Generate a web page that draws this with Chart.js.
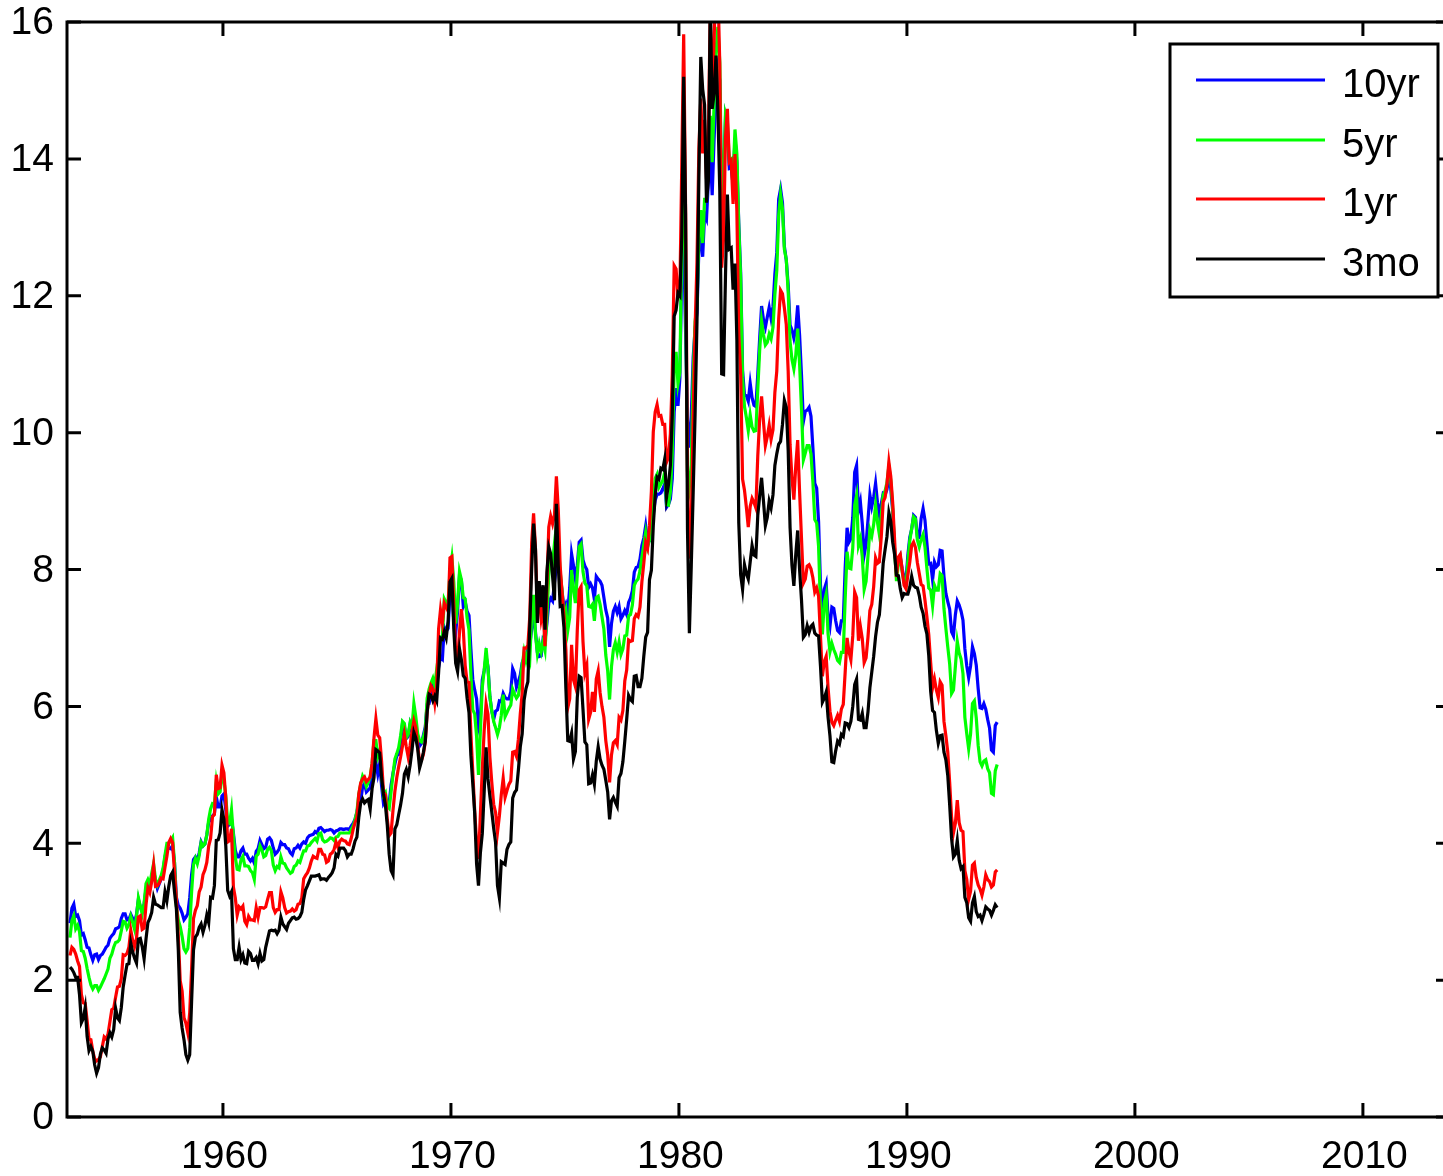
<!DOCTYPE html>
<html>
<head>
<meta charset="utf-8">
<script src="https://cdn.jsdelivr.net/npm/chart.js@4/dist/chart.umd.min.js"></script>
<style>
  html, body { margin: 0; padding: 0; background: #fff; overflow: hidden; }
  #wrap { width: 1443px; height: 1176px; overflow: hidden; }
</style>
</head>
<body>
<div id="wrap"><canvas id="rates" width="1460" height="1176"></canvas></div>
<script>
// monthly yields in percent, first month is April 1953, last December 1993
var startYear = 1953;
var startMonth = 4;

var seriesLabels = ['10yr', '5yr', '1yr', '3mo'];
var seriesColors = ['#0000ff', '#00ff00', '#ff0000', '#000000'];

var xTicks = [1960, 1970, 1980, 1990, 2000, 2010];
var yTicks = [0, 2, 4, 6, 8, 10, 12, 14, 16];

var tenYear = [
    2.83, 3.05, 3.11, 2.93, 2.95, 2.87, 2.66, 2.68, 2.59,
    2.48, 2.47, 2.37, 2.29, 2.37, 2.38, 2.30, 2.36, 2.38, 2.43, 2.48, 2.51,
    2.61, 2.65, 2.68, 2.75, 2.76, 2.78, 2.90, 2.97, 2.97, 2.88, 2.89, 2.96,
    2.90, 2.84, 2.96, 3.18, 3.07, 3.00, 3.11, 3.33, 3.38, 3.34, 3.49, 3.59,
    3.46, 3.34, 3.41, 3.48, 3.60, 3.80, 3.93, 3.93, 3.92, 3.97, 3.72, 3.21,
    3.09, 3.05, 2.98, 2.88, 2.92, 2.97, 3.20, 3.54, 3.76, 3.80, 3.74, 3.86,
    4.02, 3.96, 3.99, 4.12, 4.31, 4.34, 4.40, 4.43, 4.68, 4.53, 4.53, 4.69,
    4.72, 4.49, 4.25, 4.28, 4.35, 4.15, 3.90, 3.80, 3.80, 3.89, 3.93, 3.84,
    3.84, 3.78, 3.74, 3.78, 3.71, 3.88, 3.92, 4.04, 3.98, 3.92, 3.94, 4.06,
    4.08, 4.04, 3.93, 3.84, 3.87, 3.91, 4.01, 3.98, 3.98, 3.93, 3.92, 3.86,
    3.83, 3.92, 3.93, 3.97, 3.93, 3.99, 4.02, 4.00, 4.08, 4.11, 4.12, 4.13,
    4.17, 4.15, 4.22, 4.23, 4.20, 4.17, 4.19, 4.19, 4.20, 4.19, 4.15, 4.18,
    4.19, 4.21, 4.21, 4.20, 4.21, 4.21, 4.20, 4.25, 4.29, 4.35, 4.45, 4.62,
    4.61, 4.83, 4.87, 4.75, 4.78, 4.81, 5.02, 5.22, 5.18, 5.01, 5.16, 4.84,
    4.58, 4.63, 4.54, 4.59, 4.85, 5.02, 5.16, 5.28, 5.30, 5.48, 5.75, 5.70,
    5.53, 5.56, 5.74, 5.64, 5.87, 5.72, 5.50, 5.42, 5.46, 5.58, 5.70, 6.03,
    6.04, 6.19, 6.30, 6.17, 6.32, 6.57, 6.72, 6.69, 7.16, 7.10, 7.14, 7.65,
    7.79, 7.24, 7.07, 7.39, 7.91, 7.84, 7.46, 7.53, 7.39, 7.33, 6.84, 6.39,
    6.24, 6.11, 5.70, 5.83, 6.39, 6.52, 6.73, 6.58, 6.14, 5.93, 5.81, 5.93,
    5.95, 6.08, 6.07, 6.19, 6.13, 6.11, 6.11, 6.21, 6.55, 6.48, 6.28, 6.36,
    6.46, 6.64, 6.71, 6.67, 6.85, 6.90, 7.13, 7.40, 7.09, 6.79, 6.73, 6.74,
    6.99, 6.96, 7.21, 7.51, 7.58, 7.54, 7.81, 8.04, 8.04, 7.90, 7.68, 7.43,
    7.50, 7.39, 7.73, 8.23, 8.06, 7.86, 8.06, 8.40, 8.43, 8.14, 8.05, 8.00,
    7.74, 7.79, 7.73, 7.56, 7.90, 7.86, 7.83, 7.77, 7.59, 7.41, 7.29, 6.87,
    7.21, 7.39, 7.46, 7.37, 7.46, 7.28, 7.33, 7.40, 7.34, 7.52, 7.58, 7.69,
    7.96, 8.03, 8.04, 8.15, 8.35, 8.46, 8.64, 8.41, 8.42, 8.64, 8.81, 9.01,
    9.10, 9.10, 9.12, 9.18, 9.25, 8.91, 8.95, 9.03, 9.33, 10.30, 10.65, 10.39,
    10.80, 12.41, 12.75, 11.47, 10.18, 9.78, 10.25, 11.10, 11.51, 11.75, 12.68, 12.84,
    12.57, 13.19, 13.12, 13.68, 14.10, 13.47, 14.28, 14.94, 15.32, 15.15, 13.39, 13.72,
    14.59, 14.43, 13.86, 13.87, 13.62, 14.30, 13.95, 13.06, 12.34, 10.91, 10.55, 10.54,
    10.46, 10.72, 10.51, 10.40, 10.38, 10.85, 11.38, 11.85, 11.65, 11.54, 11.69, 11.83,
    11.67, 11.84, 12.32, 12.63, 13.41, 13.56, 13.36, 12.72, 12.52, 12.16, 11.57, 11.50,
    11.38, 11.51, 11.86, 11.43, 10.85, 10.16, 10.31, 10.33, 10.37, 10.24, 9.78, 9.26,
    9.19, 8.70, 7.78, 7.30, 7.71, 7.80, 7.30, 7.17, 7.45, 7.43, 7.25, 7.11,
    7.08, 7.25, 7.25, 8.02, 8.61, 8.40, 8.45, 8.76, 9.42, 9.52, 8.86, 8.99,
    8.67, 8.21, 8.37, 8.72, 9.09, 8.92, 9.06, 9.26, 8.98, 8.80, 8.96, 9.11,
    9.09, 9.17, 9.36, 9.18, 8.86, 8.28, 8.02, 8.11, 8.19, 8.01, 7.87, 7.84,
    8.21, 8.47, 8.59, 8.79, 8.76, 8.48, 8.47, 8.75, 8.89, 8.72, 8.39, 8.08,
    8.09, 7.85, 8.11, 8.04, 8.07, 8.28, 8.27, 7.90, 7.65, 7.53, 7.42, 7.09,
    7.03, 7.34, 7.54, 7.48, 7.39, 7.26, 6.84, 6.59, 6.42, 6.59, 6.87, 6.77,
    6.60, 6.26, 5.98, 5.97, 6.04, 5.96, 5.81, 5.68, 5.36, 5.33, 5.72, 5.77
];

var fiveYear = [
    2.62, 2.87, 2.94, 2.75, 2.80, 2.71, 2.43, 2.42, 2.32,
    2.17, 2.04, 1.93, 1.87, 1.92, 1.92, 1.85, 1.90, 1.96, 2.02, 2.09, 2.16,
    2.32, 2.38, 2.48, 2.55, 2.56, 2.59, 2.72, 2.86, 2.85, 2.76, 2.81, 2.93,
    2.84, 2.74, 2.93, 3.20, 3.08, 2.97, 3.12, 3.41, 3.47, 3.40, 3.56, 3.70,
    3.47, 3.39, 3.46, 3.53, 3.64, 3.83, 4.00, 4.00, 4.03, 4.08, 3.72, 3.08,
    2.88, 2.78, 2.64, 2.46, 2.41, 2.46, 2.77, 3.29, 3.69, 3.78, 3.70, 3.82,
    4.01, 3.96, 3.99, 4.12, 4.35, 4.50, 4.58, 4.57, 4.90, 4.72, 4.75, 5.01,
    4.92, 4.69, 4.31, 4.29, 4.49, 4.12, 3.79, 3.62, 3.61, 3.76, 3.81, 3.67,
    3.67, 3.66, 3.60, 3.57, 3.47, 3.81, 3.84, 3.96, 3.90, 3.80, 3.82, 3.91,
    3.94, 3.89, 3.68, 3.60, 3.66, 3.64, 3.80, 3.71, 3.70, 3.64, 3.60, 3.56,
    3.58, 3.66, 3.68, 3.74, 3.72, 3.81, 3.89, 3.89, 3.96, 3.97, 4.01, 4.04,
    4.07, 4.03, 4.14, 4.15, 4.05, 4.02, 4.03, 4.05, 4.08, 4.07, 4.04, 4.09,
    4.10, 4.15, 4.15, 4.15, 4.15, 4.15, 4.15, 4.20, 4.25, 4.34, 4.46, 4.72,
    4.86, 4.98, 4.92, 4.83, 4.89, 4.97, 5.17, 5.50, 5.50, 5.27, 5.36, 5.00,
    4.70, 4.74, 4.54, 4.51, 4.75, 5.01, 5.23, 5.31, 5.40, 5.57, 5.78, 5.75,
    5.54, 5.59, 5.76, 5.69, 6.04, 5.85, 5.60, 5.50, 5.48, 5.55, 5.66, 6.12,
    6.25, 6.34, 6.41, 6.30, 6.54, 6.75, 7.01, 7.03, 7.57, 7.51, 7.53, 7.96,
    8.17, 7.82, 7.21, 7.50, 7.97, 7.85, 7.59, 7.57, 7.29, 7.12, 6.47, 5.95,
    5.89, 5.56, 5.00, 5.65, 6.28, 6.53, 6.85, 6.55, 6.14, 5.93, 5.78, 5.69,
    5.59, 5.69, 5.87, 6.17, 5.85, 5.91, 5.97, 6.02, 6.25, 6.18, 6.12, 6.16,
    6.34, 6.60, 6.80, 6.67, 6.80, 6.69, 7.33, 7.63, 7.05, 6.77, 6.92, 6.80,
    6.95, 6.82, 7.31, 7.92, 8.18, 8.10, 8.38, 8.63, 8.37, 7.97, 7.68, 7.31,
    7.41, 7.11, 7.30, 7.99, 7.72, 7.51, 7.92, 8.33, 8.37, 7.97, 7.80, 7.76,
    7.46, 7.45, 7.49, 7.25, 7.59, 7.61, 7.49, 7.31, 7.13, 6.75, 6.52, 6.10,
    6.58, 6.83, 6.93, 6.79, 6.94, 6.76, 6.84, 7.03, 7.04, 7.32, 7.34, 7.48,
    7.77, 7.83, 7.86, 7.98, 8.18, 8.36, 8.54, 8.33, 8.43, 8.61, 9.04, 9.33,
    9.39, 9.20, 9.25, 9.30, 9.42, 8.95, 8.94, 9.14, 9.69, 10.95, 11.18, 10.71,
    10.88, 12.84, 14.05, 12.02, 9.44, 9.21, 9.53, 10.84, 11.62, 11.86, 12.83, 13.25,
    12.77, 13.41, 13.41, 13.99, 14.63, 13.95, 14.79, 15.56, 15.93, 15.41, 13.38, 13.60,
    14.65, 14.54, 13.98, 14.00, 13.75, 14.43, 14.07, 13.00, 12.25, 10.80, 10.38, 10.22,
    10.03, 10.26, 10.08, 10.02, 10.03, 10.63, 11.21, 11.63, 11.43, 11.28, 11.32, 11.44,
    11.37, 11.54, 12.02, 12.37, 13.17, 13.48, 13.27, 12.68, 12.53, 12.06, 11.33, 11.07,
    10.93, 11.13, 11.52, 11.01, 10.34, 9.60, 9.70, 9.81, 9.81, 9.69, 9.28, 8.73,
    8.68, 8.34, 7.46, 7.05, 7.52, 7.64, 7.06, 6.80, 6.92, 6.83, 6.76, 6.67,
    6.64, 6.79, 6.79, 7.57, 8.26, 8.02, 8.01, 8.32, 8.94, 9.08, 8.35, 8.45,
    8.18, 7.71, 7.83, 8.19, 8.58, 8.49, 8.66, 8.94, 8.69, 8.51, 8.79, 9.09,
    9.15, 9.27, 9.51, 9.30, 8.91, 8.29, 7.83, 8.09, 8.17, 7.97, 7.81, 7.75,
    8.12, 8.42, 8.60, 8.77, 8.74, 8.43, 8.33, 8.44, 8.51, 8.33, 8.02, 7.73,
    7.70, 7.47, 7.77, 7.70, 7.70, 7.94, 7.91, 7.43, 7.14, 6.87, 6.62, 6.19,
    6.24, 6.58, 6.95, 6.78, 6.69, 6.48, 5.84, 5.60, 5.38, 5.60, 6.04, 6.08,
    5.83, 5.43, 5.19, 5.13, 5.20, 5.22, 5.09, 5.03, 4.73, 4.71, 5.06, 5.15
];

var oneYear = [
    2.36, 2.48, 2.45, 2.38, 2.28, 2.20, 1.79, 1.67, 1.66,
    1.41, 1.14, 1.13, 0.96, 0.85, 0.82, 0.84, 0.88, 1.03, 1.17, 1.14, 1.21,
    1.39, 1.57, 1.59, 1.75, 1.90, 1.91, 2.02, 2.37, 2.36, 2.39, 2.48, 2.73,
    2.58, 2.49, 2.61, 2.92, 2.94, 2.74, 2.76, 3.10, 3.35, 3.28, 3.44, 3.68,
    3.37, 3.38, 3.42, 3.49, 3.48, 3.65, 3.81, 4.01, 4.07, 4.01, 3.57, 3.18,
    2.65, 1.99, 1.84, 1.45, 1.37, 1.23, 1.52, 2.16, 2.90, 3.02, 3.09, 3.29,
    3.36, 3.54, 3.61, 3.72, 3.96, 4.07, 4.39, 4.42, 5.00, 4.80, 4.81, 5.14,
    5.03, 4.66, 4.02, 4.04, 4.21, 3.36, 3.20, 2.95, 3.07, 3.04, 3.08, 2.86,
    2.81, 2.93, 2.88, 2.88, 2.87, 3.06, 2.92, 3.06, 3.06, 3.05, 3.07, 3.18,
    3.28, 3.28, 3.06, 2.99, 3.03, 3.03, 3.29, 3.20, 3.06, 2.98, 3.00, 3.01,
    3.04, 3.01, 3.03, 3.11, 3.12, 3.20, 3.48, 3.53, 3.57, 3.64, 3.74, 3.81,
    3.79, 3.78, 3.91, 3.91, 3.84, 3.83, 3.72, 3.74, 3.84, 3.86, 3.91, 4.02,
    3.94, 4.03, 4.06, 4.04, 4.03, 3.99, 3.98, 4.07, 4.20, 4.30, 4.37, 4.72,
    4.88, 4.94, 4.97, 4.90, 4.93, 4.97, 5.17, 5.54, 5.82, 5.58, 5.54, 5.20,
    4.75, 4.71, 4.35, 4.11, 4.15, 4.48, 4.76, 4.96, 5.12, 5.26, 5.42, 5.59,
    5.41, 5.26, 5.43, 5.63, 5.79, 5.69, 5.42, 5.21, 5.21, 5.30, 5.48, 5.92,
    6.17, 6.30, 6.25, 6.05, 6.29, 7.13, 7.41, 7.22, 7.51, 7.45, 7.39, 8.17,
    8.19, 7.48, 6.76, 6.64, 7.08, 7.42, 7.13, 6.60, 6.36, 6.35, 5.60, 5.04,
    4.48, 4.01, 3.77, 4.42, 5.08, 5.65, 6.04, 5.88, 5.26, 4.89, 4.57, 4.45,
    4.16, 4.40, 4.71, 4.95, 4.67, 4.77, 4.86, 4.91, 5.33, 5.34, 5.27, 5.52,
    5.89, 6.19, 6.85, 6.85, 6.89, 7.31, 8.39, 8.82, 8.31, 7.40, 7.57, 7.27,
    7.42, 6.88, 7.76, 8.62, 8.78, 8.67, 8.80, 9.36, 8.87, 8.05, 7.66, 7.31,
    6.83, 5.98, 6.11, 6.90, 6.39, 6.29, 7.11, 7.70, 7.75, 6.95, 6.49, 6.60,
    5.81, 5.91, 6.21, 5.92, 6.40, 6.52, 6.20, 6.00, 5.84, 5.50, 5.29, 4.89,
    5.29, 5.47, 5.50, 5.44, 5.84, 5.80, 5.94, 6.37, 6.53, 6.97, 6.95, 6.96,
    7.28, 7.34, 7.31, 7.45, 7.82, 8.09, 8.39, 8.31, 8.64, 9.14, 10.01, 10.30,
    10.41, 10.24, 10.25, 10.12, 10.12, 9.57, 9.64, 9.98, 10.84, 12.44, 12.39, 11.98,
    12.06, 13.92, 15.82, 13.30, 9.39, 8.16, 8.65, 10.24, 11.52, 12.49, 14.15, 14.88,
    14.08, 14.57, 13.71, 14.32, 16.20, 14.86, 15.72, 16.72, 16.52, 15.38, 12.41, 12.85,
    14.32, 14.73, 13.95, 13.98, 13.34, 14.07, 13.24, 11.43, 10.85, 9.32, 9.16, 8.91,
    8.62, 8.92, 9.04, 8.98, 8.90, 9.66, 10.20, 10.53, 10.16, 9.81, 9.94, 10.11,
    9.90, 10.04, 10.59, 10.90, 11.66, 12.08, 12.03, 11.82, 11.58, 10.90, 9.82, 9.33,
    9.02, 9.52, 9.89, 9.14, 8.46, 7.80, 7.86, 8.05, 8.07, 8.01, 7.88, 7.67,
    7.73, 7.61, 7.03, 6.44, 6.65, 6.73, 6.27, 5.93, 5.77, 5.72, 5.80, 5.87,
    5.78, 5.96, 6.03, 6.50, 7.00, 6.80, 6.68, 7.03, 7.67, 7.59, 6.96, 7.17,
    6.99, 6.64, 6.71, 7.01, 7.40, 7.49, 7.75, 8.17, 8.09, 8.11, 8.48, 8.99,
    9.05, 9.25, 9.57, 9.36, 8.98, 8.44, 7.89, 8.18, 8.22, 7.99, 7.77, 7.72,
    7.92, 8.11, 8.35, 8.40, 8.32, 8.10, 7.94, 7.78, 7.76, 7.55, 7.31, 7.05,
    6.64, 6.27, 6.40, 6.24, 6.13, 6.36, 6.31, 5.78, 5.57, 5.33, 4.89, 4.38,
    4.15, 4.29, 4.63, 4.30, 4.19, 4.17, 3.60, 3.47, 3.18, 3.30, 3.68, 3.71,
    3.50, 3.39, 3.33, 3.24, 3.36, 3.54, 3.47, 3.44, 3.36, 3.39, 3.58, 3.61
];

var threeMonth = [
    2.19, 2.16, 2.11, 2.04, 2.04, 1.79, 1.38, 1.44, 1.60,
    1.18, 0.97, 1.03, 0.96, 0.76, 0.64, 0.72, 0.92, 1.01, 0.98, 0.93, 1.14,
    1.23, 1.17, 1.28, 1.59, 1.45, 1.41, 1.60, 1.90, 2.07, 2.23, 2.24, 2.54,
    2.41, 2.32, 2.25, 2.60, 2.61, 2.49, 2.31, 2.60, 2.84, 2.90, 2.99, 3.21,
    3.11, 3.10, 3.08, 3.06, 3.06, 3.29, 3.16, 3.37, 3.53, 3.58, 3.29, 3.04,
    2.44, 1.53, 1.30, 1.13, 0.91, 0.83, 0.91, 1.69, 2.44, 2.63, 2.67, 2.77,
    2.82, 2.70, 2.80, 2.95, 2.84, 3.21, 3.20, 3.38, 4.04, 4.05, 4.15, 4.49,
    4.35, 3.96, 3.31, 3.23, 3.29, 2.46, 2.30, 2.30, 2.48, 2.30, 2.37, 2.25,
    2.24, 2.42, 2.39, 2.29, 2.29, 2.33, 2.24, 2.39, 2.28, 2.30, 2.48, 2.60,
    2.72, 2.73, 2.72, 2.73, 2.68, 2.73, 2.92, 2.82, 2.78, 2.74, 2.83, 2.87,
    2.91, 2.92, 2.89, 2.90, 2.93, 2.99, 3.18, 3.32, 3.38, 3.45, 3.52, 3.52,
    3.52, 3.53, 3.54, 3.47, 3.48, 3.48, 3.46, 3.50, 3.53, 3.57, 3.64, 3.84,
    3.81, 3.93, 3.93, 3.93, 3.89, 3.80, 3.84, 3.84, 3.92, 4.03, 4.09, 4.38,
    4.59, 4.65, 4.59, 4.62, 4.64, 4.50, 4.80, 4.96, 5.37, 5.35, 5.32, 4.96,
    4.72, 4.56, 4.26, 3.84, 3.60, 3.54, 4.21, 4.27, 4.42, 4.56, 4.73, 5.01,
    5.08, 4.97, 5.14, 5.36, 5.62, 5.54, 5.38, 5.10, 5.20, 5.33, 5.49, 5.92,
    6.18, 6.16, 6.08, 6.15, 6.08, 6.49, 7.00, 6.98, 7.09, 7.00, 7.24, 7.82,
    7.87, 7.13, 6.63, 6.51, 6.84, 6.68, 6.45, 6.41, 6.12, 5.91, 5.28, 4.87,
    4.44, 3.70, 3.38, 3.86, 4.14, 4.75, 5.40, 4.94, 4.69, 4.46, 4.22, 4.01,
    3.38, 3.20, 3.73, 3.71, 3.69, 3.91, 3.98, 4.02, 4.66, 4.74, 4.78, 5.07,
    5.41, 5.60, 6.09, 6.26, 6.36, 7.19, 8.01, 8.67, 8.29, 7.22, 7.83, 7.45,
    7.77, 7.12, 7.96, 8.33, 8.23, 7.90, 7.55, 8.96, 8.06, 7.46, 7.47, 7.15,
    6.26, 5.50, 5.49, 5.61, 5.23, 5.34, 6.13, 6.44, 6.42, 5.96, 5.48, 5.44,
    4.87, 4.88, 5.00, 4.86, 5.20, 5.41, 5.23, 5.14, 5.08, 4.92, 4.75, 4.35,
    4.62, 4.67, 4.60, 4.54, 4.96, 5.02, 5.19, 5.49, 5.81, 6.16, 6.10, 6.07,
    6.44, 6.45, 6.29, 6.29, 6.41, 6.73, 7.01, 7.08, 7.85, 7.99, 8.64, 9.08,
    9.35, 9.32, 9.48, 9.46, 9.61, 9.06, 9.24, 9.52, 10.26, 11.70, 11.79, 12.04,
    12.00, 12.86, 15.20, 13.20, 8.58, 7.07, 8.06, 9.13, 10.27, 11.62, 13.73, 15.49,
    15.02, 14.79, 13.36, 13.69, 16.30, 14.73, 14.95, 15.51, 14.70, 13.54, 10.86, 10.85,
    12.28, 13.48, 12.68, 12.70, 12.09, 12.47, 11.35, 8.68, 7.92, 7.71, 8.07, 7.94,
    7.86, 8.11, 8.35, 8.21, 8.19, 8.79, 9.08, 9.34, 9.00, 8.64, 8.76, 9.00,
    8.90, 9.09, 9.52, 9.69, 9.83, 9.87, 10.12, 10.47, 10.37, 9.74, 8.61, 8.06,
    7.76, 8.22, 8.57, 8.00, 7.56, 7.01, 7.05, 7.18, 7.08, 7.17, 7.20, 7.07,
    7.04, 7.03, 6.59, 6.06, 6.12, 6.21, 5.84, 5.57, 5.19, 5.18, 5.35, 5.49,
    5.45, 5.59, 5.56, 5.76, 5.75, 5.69, 5.78, 6.00, 6.32, 6.40, 5.81, 5.80,
    5.90, 5.69, 5.69, 5.92, 6.27, 6.50, 6.73, 7.02, 7.23, 7.34, 7.68, 8.09,
    8.29, 8.48, 8.83, 8.70, 8.40, 8.22, 7.92, 7.91, 7.72, 7.59, 7.65, 7.64,
    7.64, 7.74, 7.90, 7.77, 7.74, 7.73, 7.62, 7.45, 7.36, 7.17, 7.06, 6.74,
    6.22, 5.94, 5.91, 5.65, 5.46, 5.57, 5.58, 5.33, 5.22, 4.99, 4.56, 4.07,
    3.80, 3.84, 4.04, 3.75, 3.63, 3.66, 3.21, 3.13, 2.91, 2.86, 3.13, 3.22,
    3.00, 2.93, 2.95, 2.87, 2.96, 3.07, 3.04, 3.02, 2.95, 3.02, 3.10, 3.06
];

var seriesValues = [tenYear, fiveYear, oneYear, threeMonth];

// month i sits in the middle of its month on the year axis
function toPoints(values) {
    return values.map(function(v, i) {
        return {x: startYear + (startMonth - 1 + i + 0.5) / 12, y: v};
    });
}

var FONT = '"Liberation Sans", Arial, Helvetica, sans-serif';

// matlab style box: inward ticks on all four sides, labels, legend box
var axesBox = {
    id: 'axesBox',
    afterDatasetsDraw: function(chart) {
        var ctx = chart.ctx;
        var a = chart.chartArea;
        var xs = chart.scales.x;
        var ys = chart.scales.y;
        var tick = 14;
        ctx.save();
        ctx.strokeStyle = '#000';
        ctx.lineWidth = 3;
        ctx.beginPath();
        xTicks.forEach(function(v) {
            var px = xs.getPixelForValue(v);
            ctx.moveTo(px, a.bottom); ctx.lineTo(px, a.bottom - tick);
            ctx.moveTo(px, a.top); ctx.lineTo(px, a.top + tick);
        });
        yTicks.forEach(function(v) {
            var py = ys.getPixelForValue(v);
            ctx.moveTo(a.left, py); ctx.lineTo(a.left + tick, py);
            ctx.moveTo(a.right, py); ctx.lineTo(a.right - tick, py);
        });
        ctx.stroke();
        ctx.strokeRect(a.left, a.top, a.right - a.left, a.bottom - a.top);

        ctx.fillStyle = '#000';
        ctx.font = '39px ' + FONT;
        ctx.textAlign = 'center';
        ctx.textBaseline = 'alphabetic';
        xTicks.forEach(function(v) {
            ctx.fillText(String(v), xs.getPixelForValue(v) + 1.5, a.bottom + 51);
        });
        ctx.textAlign = 'right';
        ctx.textBaseline = 'middle';
        yTicks.forEach(function(v) {
            ctx.fillText(String(v), a.left - 13, ys.getPixelForValue(v) + 1.5);
        });

        // legend
        var bx = 1170, by = 44, bw = 268, bh = 253;
        ctx.fillStyle = '#fff';
        ctx.fillRect(bx, by, bw, bh);
        ctx.strokeStyle = '#000';
        ctx.lineWidth = 3;
        ctx.strokeRect(bx, by, bw, bh);
        var rows = [80, 140, 199, 259];
        ctx.font = '40px ' + FONT;
        ctx.textAlign = 'left';
        ctx.textBaseline = 'middle';
        seriesLabels.forEach(function(lbl, i) {
            ctx.strokeStyle = seriesColors[i];
            ctx.lineWidth = 3;
            ctx.beginPath();
            ctx.moveTo(1196, rows[i]);
            ctx.lineTo(1325, rows[i]);
            ctx.stroke();
            ctx.fillStyle = '#000';
            ctx.fillText(lbl, 1342, rows[i] + 6);
        });
        ctx.restore();
    }
};

var datasets = seriesLabels.map(function(lbl, i) {
    return {
        label: lbl,
        data: toPoints(seriesValues[i]),
        borderColor: seriesColors[i],
        borderWidth: 3.2,
        pointRadius: 0,
        fill: false,
        tension: 0,
        order: seriesLabels.length - 1 - i
    };
});

new Chart(document.getElementById('rates'), {
    type: 'line',
    data: {datasets: datasets},
    options: {
        responsive: false,
        animation: false,
        layout: {padding: {left: 67, top: 22, right: 10, bottom: 59}},
        scales: {
            x: {type: 'linear', min: 1953.16, max: 2013.82, display: false},
            y: {type: 'linear', min: 0, max: 16, display: false}
        },
        plugins: {
            legend: {display: false},
            tooltip: {enabled: false}
        }
    },
    plugins: [axesBox]
});
</script>
</body>
</html>
